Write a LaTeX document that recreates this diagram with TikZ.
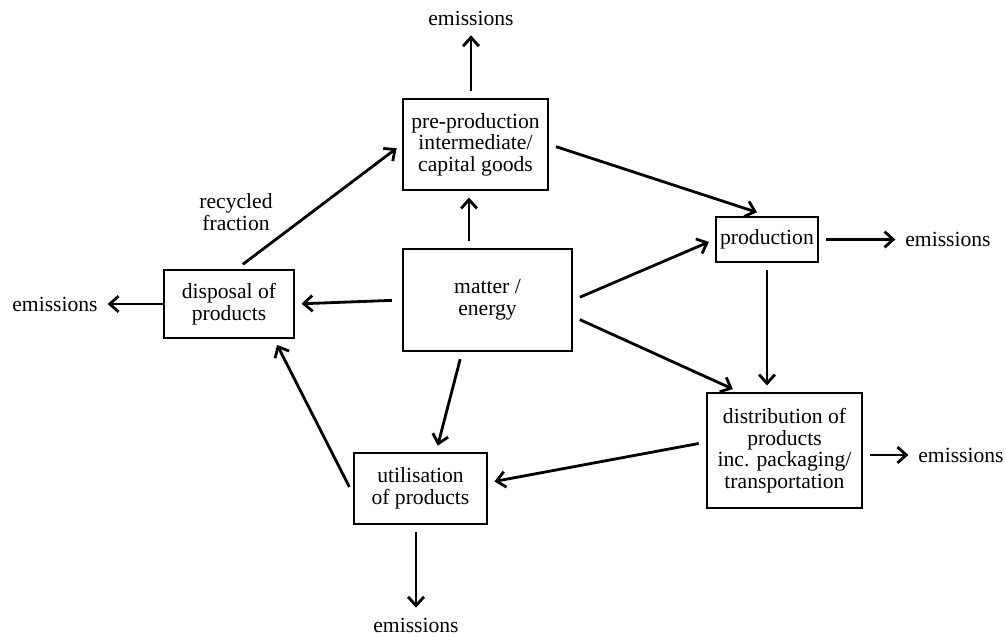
\documentclass[tikz,border=0pt]{standalone}
\usepackage{fontspec}
\setmainfont{Liberation Serif}
\usepackage{tikz}
\usetikzlibrary{positioning, arrows.meta}
\tikzstyle{Arrow} = [
    line width = 1.6pt,
    -{Straight Barb[length=5pt, width=9pt]},
    shorten >= 3.5pt, shorten <= 4pt
]

\begin{document}
\begin{tikzpicture}[
on grid,
font = \fontsize{12.3}{12.3}\selectfont,
box/.style={
    rectangle,
    draw,
    line width = 1.6pt,
    align = center,
    inner sep = 0pt
    },
label/.style={
    inner sep = 2pt
    }
]
\useasboundingbox (-9.75,6.0) rectangle (10.35,-6.7);

\node [box, minimum width = 3.38cm, minimum height = 2.04cm] (m) {matter /\\energy};
\node [box, minimum width = 2.9cm, minimum height = 1.82cm, above left = 3.11cm and 0.24cm of m] (1) {pre-production\\intermediate/\\capital goods};
\node [box, minimum width = 2.04cm, minimum height = 0.9cm, above right = 1.21cm and 5.59cm of m] (2) {production};
\node [box, minimum width = 3.1cm, minimum height = 2.3cm, below right = 3.01cm and 5.94cm of m] (3) {distribution of\\products\\inc. packaging/\\transportation};
\node [box, minimum width = 2.66cm, minimum height = 1.42cm, below left = 3.77cm and 1.34cm of m] (4) {utilisation\\of products};
\node [box, minimum width = 2.6cm, minimum height = 1.36cm, below left = 0.08cm and 5.17cm of m] (5) {disposal of\\products};

\node [label, above left = 2.53cm and 0.09cm of 1] (6) {emissions};
\node [label, right = 3.62cm of 2] (7) {emissions};
\node [label, below right = 0.09cm and 3.53cm of 3] (8) {emissions};
\node [label, below left = 2.73cm and 0.09cm of 4] (9) {emissions};
\node [label, left = 3.48cm of 5] (10) {emissions};
\node [label, align = center, above right = 1.84cm and 0.14cm of 5] (11) {recycled\\fraction};

\draw[Arrow] ([xshift=-0.37cm]m.north) -- ([xshift=-0.37cm]m.north |- 1.south);
\draw[Arrow, shorten <= 5.5pt] (m.west) -- (5.east);
\draw[Arrow] (m.east) -- (2.west);
\draw[Arrow] (m.-11) -- (3.128);
\draw[Arrow] (m.244) -- (4.67);

\draw[Arrow, shorten >= 6pt] (1.east) -- (2.north);
\draw[Arrow] (2.south) -- (2.south |- 3.north);
\draw[Arrow] (3.174) -- (4.5);
\draw[Arrow] (4.184) -- (5.-38);
\draw[Arrow] (5.77) -- (1.west);

\draw[Arrow] (6 |- 1.north) -- (6);
\draw[Arrow] (2.east) -- (7.west);
\draw[Arrow] (8.west -| 3.east) -- (8.west);
\draw[Arrow] (4.south -| 9) -- (9);
\draw[Arrow, shorten <= 0pt] (5.west) -- (10.east);

\end{tikzpicture}
\end{document}
